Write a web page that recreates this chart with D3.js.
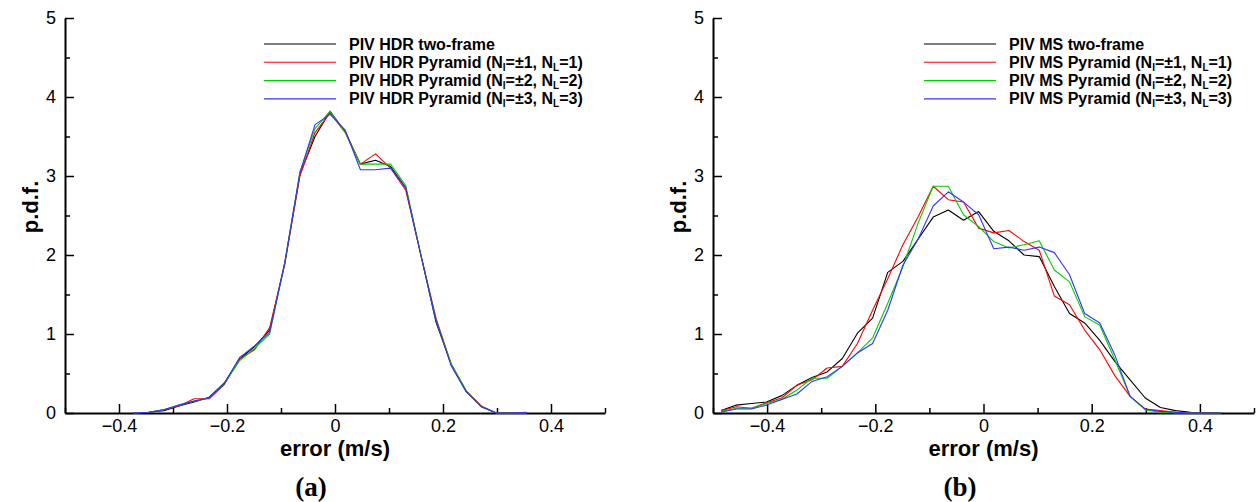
<!DOCTYPE html>
<html>
<head>
<meta charset="utf-8">
<script src="https://cdn.jsdelivr.net/npm/d3@7"></script>
<style>
    body { margin: 0; background: #fff; }
    svg { display: block; font-family: "Liberation Sans", Arial, sans-serif; }
    .axis .domain { stroke: #000; stroke-width: 2; }
    .axis .tick line { stroke: #000; stroke-width: 1.5; }
    .axis .tick text { font-size: 18px; fill: #000; }
    .axis-label { font-size: 22px; font-weight: bold; }
    .legend-text { font-size: 16px; font-weight: bold; }
    .panel-tag { font-family: "Liberation Serif", "Times New Roman", serif; font-size: 27px; font-weight: bold; }
</style>
</head>
<body>
<svg id="chart" width="1256" height="502"></svg>
<script>
// error bins (m/s)
const xLeft = [-0.373, -0.345, -0.317, -0.289, -0.261, -0.233, -0.205, -0.177, -0.149, -0.121, -0.093, -0.065, -0.037, -0.009,
    0.019, 0.047, 0.075, 0.103, 0.131, 0.159, 0.187, 0.215, 0.243, 0.271, 0.299, 0.327, 0.355];
const xRight = [-0.485, -0.457, -0.429, -0.401, -0.373, -0.345, -0.317, -0.289, -0.261, -0.233, -0.205, -0.177, -0.149, -0.121,
    -0.093, -0.065, -0.037, -0.009, 0.019, 0.047, 0.075, 0.103, 0.131, 0.159, 0.187, 0.215, 0.243, 0.271, 0.299, 0.327,
    0.355, 0.383, 0.411, 0.439];

// (a) PIV HDR
const hdrTwoFrame = [0, 0.01, 0.03, 0.09, 0.14, 0.2, 0.38, 0.68, 0.84, 1.05, 1.9, 3.02, 3.5, 3.82, 3.56, 3.15, 3.2, 3.12, 2.85, 2.0, 1.15, 0.62, 0.27, 0.08, 0, 0, 0];
const hdrPyr1 = [0, 0.01, 0.04, 0.09, 0.18, 0.18, 0.36, 0.68, 0.8, 1.08, 1.88, 3.0, 3.55, 3.8, 3.55, 3.15, 3.28, 3.1, 2.82, 2.0, 1.2, 0.62, 0.28, 0.09, 0, 0, 0];
const hdrPyr2 = [0, 0.01, 0.04, 0.1, 0.15, 0.19, 0.37, 0.66, 0.82, 1.0, 1.9, 3.05, 3.6, 3.82, 3.55, 3.15, 3.15, 3.15, 2.88, 2.0, 1.18, 0.62, 0.28, 0.08, 0, 0, 0];
const hdrPyr3 = [0, 0.01, 0.04, 0.1, 0.15, 0.19, 0.37, 0.7, 0.85, 1.02, 1.9, 3.04, 3.65, 3.78, 3.58, 3.08, 3.08, 3.1, 2.85, 2.0, 1.18, 0.6, 0.27, 0.08, 0, 0, 0.01];

// (b) PIV MS
const msTwoFrame = [0.03, 0.10, 0.12, 0.14, 0.22, 0.35, 0.45, 0.52, 0.69, 1.01, 1.20, 1.78, 1.92, 2.2, 2.48, 2.57, 2.44, 2.55, 2.30, 2.18, 2.0, 1.98, 1.60, 1.26, 1.14, 0.92, 0.65, 0.42, 0.19, 0.07, 0.03, 0.01, 0.005, 0];
const msPyr1 = [0.03, 0.08, 0.06, 0.13, 0.19, 0.35, 0.42, 0.57, 0.59, 0.88, 1.30, 1.70, 2.13, 2.48, 2.87, 2.70, 2.67, 2.34, 2.28, 2.31, 2.17, 2.06, 1.48, 1.37, 1.05, 0.80, 0.47, 0.21, 0.05, 0.03, 0.01, 0, 0, 0];
const msPyr2 = [0.02, 0.06, 0.06, 0.12, 0.17, 0.29, 0.44, 0.44, 0.59, 0.76, 0.95, 1.39, 1.85, 2.40, 2.87, 2.87, 2.51, 2.36, 2.17, 2.09, 2.13, 2.18, 1.81, 1.66, 1.22, 1.11, 0.67, 0.21, 0.04, 0.01, 0, 0, 0, 0];
const msPyr3 = [0.01, 0.05, 0.05, 0.10, 0.17, 0.24, 0.40, 0.46, 0.59, 0.76, 0.88, 1.30, 1.87, 2.2, 2.62, 2.80, 2.67, 2.51, 2.08, 2.10, 2.06, 2.10, 2.03, 1.75, 1.26, 1.14, 0.73, 0.21, 0.05, 0.02, 0.01, 0, 0, 0];

const seriesColors = ["#000000", "#ff0000", "#00cc00", "#3333ff"];
const xMajor = [-0.4, -0.2, 0, 0.2, 0.4];
const xMinor = [-0.5, -0.3, -0.1, 0.1, 0.3, 0.5];
const yMajor = [0, 1, 2, 3, 4, 5];
const yMinor = [0.5, 1.5, 2.5, 3.5, 4.5];

const svg = d3.select("#chart");

function drawPanel(p) {
    const x = d3.scaleLinear().domain([-0.5, 0.5]).range([p.left, p.right]);
    const y = d3.scaleLinear().domain([0, 5]).range([413, 18]);

    const g = svg.append("g");

    // minor ticks first
    g.append("g")
        .attr("class", "axis")
        .attr("transform", `translate(0, ${y(0)})`)
        .call(d3.axisBottom(x).tickValues(xMinor).tickSize(-5).tickFormat(""))
        .call((s) => s.select(".domain").remove());
    g.append("g")
        .attr("class", "axis")
        .attr("transform", `translate(${x(-0.5)}, 0)`)
        .call(d3.axisLeft(y).tickValues(yMinor).tickSize(-5).tickFormat(""))
        .call((s) => s.select(".domain").remove());

    g.append("g")
        .attr("class", "axis")
        .attr("transform", `translate(0, ${y(0)})`)
        .call(d3.axisBottom(x).tickValues(xMajor).tickSize(-9).tickSizeOuter(0).tickPadding(6).tickFormat(d3.format("")));
    g.append("g")
        .attr("class", "axis")
        .attr("transform", `translate(${x(-0.5)}, 0)`)
        .call(d3.axisLeft(y).tickValues(yMajor).tickSize(-9).tickSizeOuter(0).tickPadding(9).tickFormat(d3.format("d")));

    const line = d3.line()
        .x((d) => x(d[0]))
        .y((d) => y(d[1]));

    p.series.forEach((vals, i) => {
        g.append("path")
            .datum(p.xs.map((v, j) => [v, vals[j]]))
            .attr("fill", "none")
            .attr("stroke", seriesColors[i])
            .attr("stroke-width", 1.1)
            .attr("stroke-linejoin", "round")
            .attr("d", line);
    });

    // axis titles
    g.append("text")
        .attr("class", "axis-label")
        .attr("x", x(0))
        .attr("y", 456)
        .attr("text-anchor", "middle")
        .text("error (m/s)");
    g.append("text")
        .attr("class", "axis-label")
        .attr("transform", `translate(${x(-0.5) - 27}, 207) rotate(-90)`)
        .attr("text-anchor", "middle")
        .text("p.d.f.");

    g.append("text")
        .attr("class", "panel-tag")
        .attr("x", p.tagX)
        .attr("y", 496)
        .attr("text-anchor", "middle")
        .text(p.tag);

    // legend
    const lg = g.append("g").attr("transform", `translate(${p.legendX}, 44)`);
    p.names.forEach((name, i) => {
        const row = lg.append("g").attr("transform", `translate(0, ${i * 18.3})`);
        row.append("line")
            .attr("x1", 0).attr("x2", 72)
            .attr("y1", 0).attr("y2", 0)
            .attr("stroke", seriesColors[i])
            .attr("stroke-width", 1.1);
        const t = row.append("text")
            .attr("class", "legend-text")
            .attr("x", 85)
            .attr("y", 5.5);
        if (i === 0) {
            t.text(name);
        } else {
            t.append("tspan").text(`${name} (N`);
            t.append("tspan").attr("font-size", "10px").attr("dy", 3).text("I");
            t.append("tspan").attr("dy", -3).text(`=±${i}, N`);
            t.append("tspan").attr("font-size", "10px").attr("dy", 3).text("L");
            t.append("tspan").attr("dy", -3).text(`=${i})`);
        }
    });
}

drawPanel({
    left: 65, right: 605, xs: xLeft,
    series: [hdrTwoFrame, hdrPyr1, hdrPyr2, hdrPyr3],
    names: ["PIV HDR two-frame", "PIV HDR Pyramid", "PIV HDR Pyramid", "PIV HDR Pyramid"],
    legendX: 264, tag: "(a)", tagX: 311
});

drawPanel({
    left: 713, right: 1254, xs: xRight,
    series: [msTwoFrame, msPyr1, msPyr2, msPyr3],
    names: ["PIV MS two-frame", "PIV MS Pyramid", "PIV MS Pyramid", "PIV MS Pyramid"],
    legendX: 924, tag: "(b)", tagX: 960
});
</script>
</body>
</html>
